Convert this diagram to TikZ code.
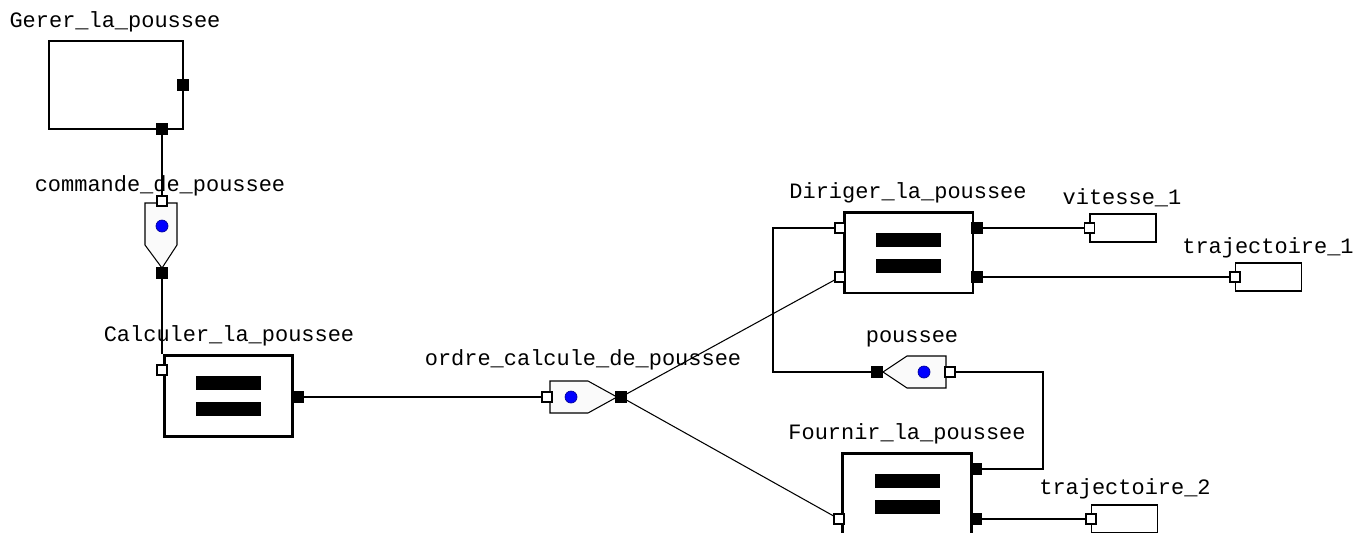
\documentclass[tikz,border=0pt]{standalone}
\usepackage{fontspec}
\setmonofont{Liberation Mono}
\usetikzlibrary{calc}

\begin{document}
\begin{tikzpicture}[x=0.02cm,y=-0.02cm,line join=miter,
  wire/.style={line width=0.6pt},
  lbl/.style={font=\fontsize{12.5}{14}\selectfont\ttfamily,inner sep=0pt},
  proc/.style={draw,line width=1.7pt,fill=white,minimum width=2.58cm,minimum height=1.62cm,inner sep=0pt},
  term/.style={draw,line width=0.6pt,fill=white,minimum width=1.32cm,minimum height=0.56cm,inner sep=0pt},
  bport/.style={draw,fill=black,minimum size=0.22cm,inner sep=0pt},
  wport/.style={draw,line width=0.6pt,fill=white,minimum size=0.2cm,inner sep=0pt},
  flow/.style={draw,line width=0.6pt,fill=gray!4},
  dot/.style={draw=blue!60!black,fill=blue,line width=0.4pt}]
  \clip (0,0) rectangle (1354,532);

  % boxes
  \node[draw,line width=0.6pt,fill=white,minimum width=2.68cm,minimum height=1.76cm] (gerer) at (116,85) {};
  \node[proc] (calc) at (228.5,395.5) {};
  \node[proc] (dir) at (908.5,252.5) {};
  \node[proc] (four) at (907,493.5) {};
  \foreach \b in {calc,dir,four} {
    \fill ([shift={(-32.5,-20)}]\b.center) rectangle ++(65,14);
    \fill ([shift={(-32.5,6)}]\b.center) rectangle ++(65,14);
  }
  \node[term] (vit) at (1123,228) {};
  \node[term] (traj1) at (1268.5,277) {};
  \node[term] (traj2) at (1124.5,519) {};

  % flows
  \draw[flow] (145,203) -- (177,203) -- (177,245) -- (162,268) -- (145,245) -- cycle;
  \draw[flow] (550,381) -- (588,381) -- (617,397) -- (588,413) -- (550,413) -- cycle;
  \draw[flow] (946,356) -- (907,356) -- (883,372) -- (907,388) -- (946,388) -- cycle;
  \fill[dot] (162,226) circle (6);
  \fill[dot] (571,397) circle (6);
  \fill[dot] (924,372) circle (6);

  % ports
  \node[bport] (gerout1) at (183,85) {};
  \node[bport] (gerout2) at (162,129) {};
  \node[wport] (cmdin) at (162,201) {};
  \node[bport] (cmdout) at (162,273) {};
  \node[wport] (calcin) at (162,370) {};
  \node[bport] (calcout) at (298,397) {};
  \node[wport] (ordrein) at (547,397) {};
  \node[bport] (ordreout) at (621,397) {};
  \node[wport] (dirin1) at (840,228) {};
  \node[wport] (dirin2) at (840,277) {};
  \node[bport] (dirout1) at (977,228) {};
  \node[bport] (dirout2) at (977,277) {};
  \node[bport] (pousout) at (877,372) {};
  \node[wport] (pousin) at (950,372) {};
  \node[wport] (fourin) at (839,519) {};
  \node[bport] (fourout1) at (976,469) {};
  \node[bport] (fourout2) at (976,519) {};
  \node[wport] (vitin) at (vit.west) {};
  \node[wport] (traj1in) at (traj1.west) {};
  \node[wport] (traj2in) at (traj2.west) {};

  % connectors
  \draw[wire] (gerout2) -- (cmdin);
  \draw[wire] (cmdout) -- (cmdout |- calc.north);
  \draw[wire] (calcout) -- (ordrein);
  \draw[wire] (ordreout) -- (dirin2);
  \draw[wire] (ordreout) -- (fourin);
  \draw[wire] (dirin1) -- ++(-67,0) |- (pousout);
  \draw[wire] (pousin) -- ++(93,0) |- (fourout1);
  \draw[wire] (dirout1) -- (vitin);
  \draw[wire] (dirout2) -- (traj1in);
  \draw[wire] (fourout2) -- (traj2in);

  % labels
  \node[lbl] (lgerer) at (115,22) {Gerer\_la\_poussee};
  \node[lbl] (lcmd) at (160,186) {commande\_de\_poussee};
  \node[lbl] (lcalc) at (229,336) {Calculer\_la\_poussee};
  \node[lbl] (lordre) at (583,360) {ordre\_calcule\_de\_poussee};
  \node[lbl] (ldir) at (908,193) {Diriger\_la\_poussee};
  \node[lbl] (lvit) at (1122,198) {vitesse\_1};
  \node[lbl] (ltraj1) at (1268,248) {trajectoire\_1};
  \node[lbl] (lpous) at (912,339) {poussee};
  \node[lbl] (lfour) at (907,434) {Fournir\_la\_poussee};
  \node[lbl] (ltraj2) at (1125,489) {trajectoire\_2};
\end{tikzpicture}
\end{document}
